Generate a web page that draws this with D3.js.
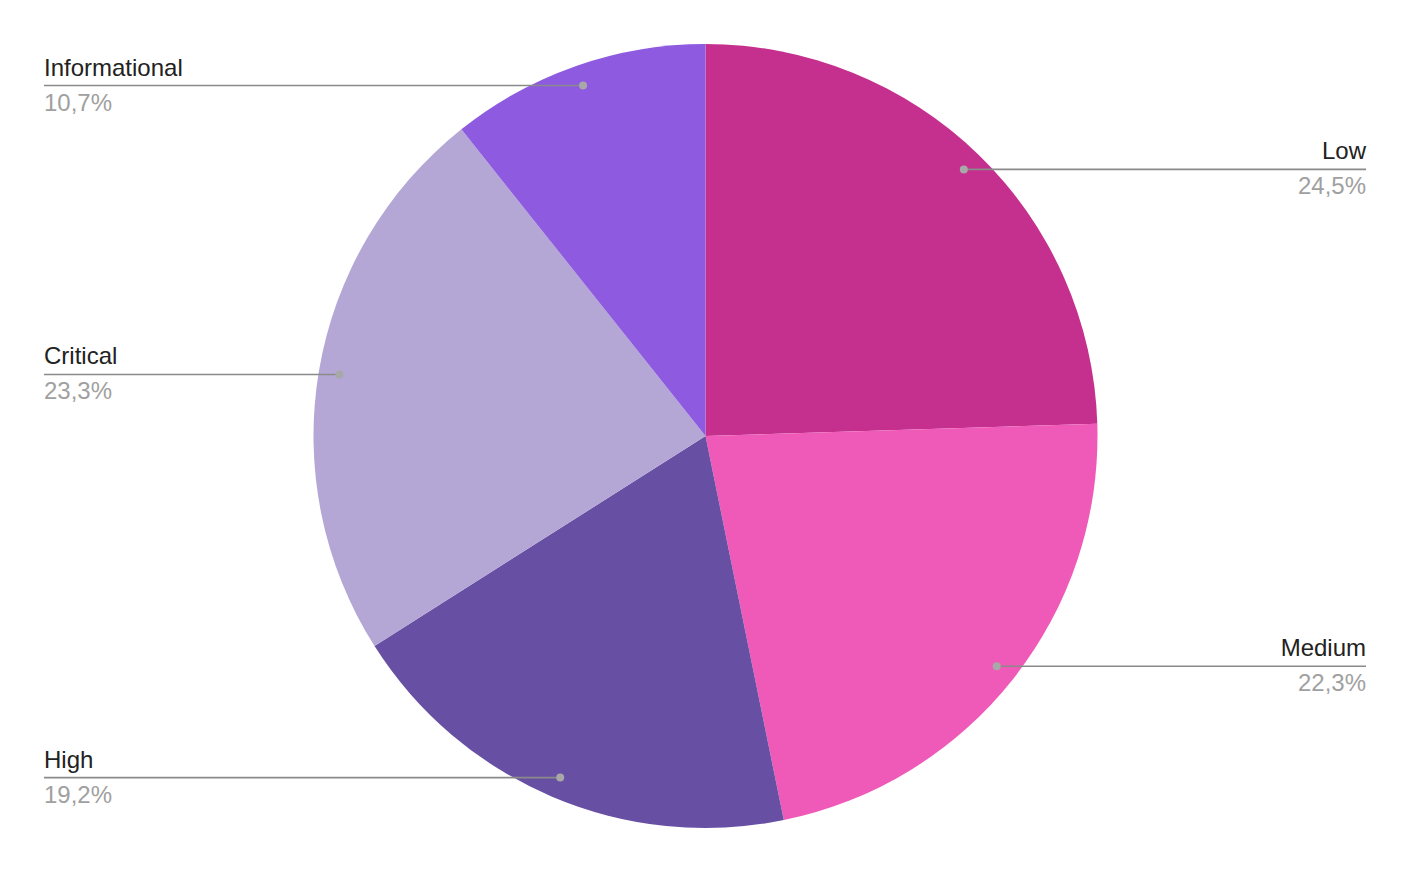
<!DOCTYPE html>
<html>
<head>
<meta charset="utf-8">
<script src="https://cdn.jsdelivr.net/npm/d3@7"></script>
<style>
  body { margin: 0; background: #fff; }
  text { font-family: "Liberation Sans", Arial, sans-serif; }
</style>
</head>
<body>
<svg id="chart" width="1411" height="871"></svg>
<script>
const categories = ["Low", "Medium", "High", "Critical", "Informational"];
const shares = [24.5, 22.3, 19.2, 23.3, 10.7];
const colors = ["#c5308f", "#ef5ab9", "#674fa3", "#b4a7d6", "#8e5ae0"];

const width = 1411, height = 871;
const cx = 705.5, cy = 436, radius = 392;
const leftX = 44, rightX = 1366;

const svg = d3.select("#chart");
const data = categories.map((c, i) => ({ name: c, value: shares[i], color: colors[i] }));

const pie = d3.pie().value((d) => d.value).sort(null);
const arc = d3.arc().innerRadius(0).outerRadius(radius);
const dotArc = d3.arc().innerRadius(radius * 0.947).outerRadius(radius * 0.947);

const arcs = pie(data);
const g = svg.append("g").attr("transform", `translate(${cx}, ${cy})`);

g.selectAll("path")
    .data(arcs)
    .join("path")
    .attr("d", arc)
    .style("fill", (d) => d.data.color);

const fmt = (v) => v.toFixed(1).replace(".", ",") + "%";

const labels = svg.append("g");
arcs.forEach((d) => {
    const [dx, dy] = dotArc.centroid(d);
    const px = cx + dx, py = cy + dy;
    const mid = (d.startAngle + d.endAngle) / 2;
    const left = mid > Math.PI;
    const x = left ? leftX : rightX;
    const anchor = left ? "start" : "end";

    labels.append("line")
        .attr("x1", x).attr("x2", px)
        .attr("y1", py).attr("y2", py)
        .style("stroke", "#8a8a8a")
        .style("stroke-width", 1.6);
    labels.append("circle")
        .attr("cx", px).attr("cy", py).attr("r", 4)
        .style("fill", "#a8a8a8");
    labels.append("text")
        .attr("x", x).attr("y", py - 10)
        .attr("text-anchor", anchor)
        .style("font-size", "24px")
        .style("fill", "#222")
        .text(d.data.name);
    labels.append("text")
        .attr("x", x).attr("y", py + 25)
        .attr("text-anchor", anchor)
        .style("font-size", "24px")
        .style("fill", "#a0a0a0")
        .text(fmt(d.data.value));
});
</script>
</body>
</html>
